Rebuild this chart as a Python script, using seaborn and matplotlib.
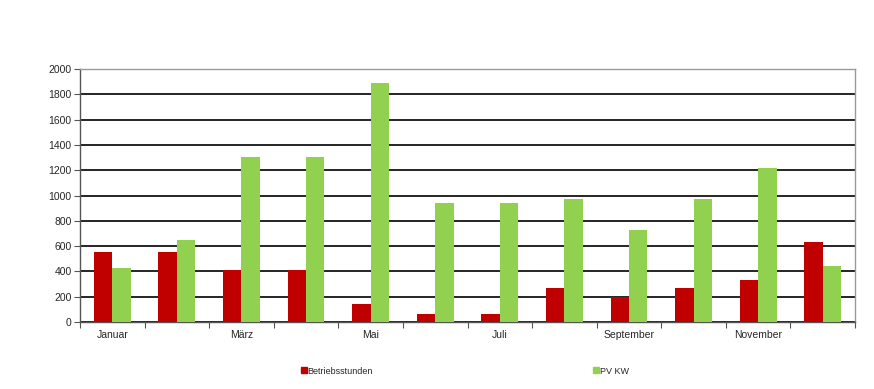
import pandas as pd
import matplotlib.pyplot as plt
import seaborn as sns
from matplotlib.lines import Line2D

months = ["Januar", "Februar", "März", "April", "Mai", "Juni", "Juli",
          "August", "September", "Oktober", "November", "Dezember"]
betriebsstunden = [550, 550, 415, 415, 140, 65, 65, 265, 197, 265, 330, 630]
pv_kw = [430, 652, 1305, 1305, 1888, 942, 942, 971, 728, 971, 1215, 440]
series_names = ["Betriebsstunden", "PV KW"]
colors = ["#C00000", "#92D050"]
y_ticks = list(range(0, 2001, 200))

df = pd.DataFrame({
    "Monat": months * 2,
    "Wert": betriebsstunden + pv_kw,
    "Reihe": [series_names[0]] * 12 + [series_names[1]] * 12,
})

sns.set_style("white")
plt.rcParams["font.family"] = ["Liberation Sans", "DejaVu Sans"]
plt.rcParams["font.size"] = 7.5

fig = plt.figure(figsize=(8.74, 3.89), dpi=100)
ax = fig.add_axes([80 / 874, 1 - 322 / 389, 775 / 874, 253 / 389])

sns.barplot(data=df, x="Monat", y="Wert", hue="Reihe", palette=colors,
            saturation=1, width=0.57, linewidth=0, edgecolor="none",
            ax=ax, legend=False, zorder=3)

ax.set_xlim(-0.5, 11.5)
ax.set_ylim(0, 2000)
ax.set_yticks(y_ticks)
ax.yaxis.grid(True, color="black", linewidth=1.2, zorder=0)
ax.set_axisbelow(True)

# category boundaries as major ticks, labels every other month
ax.set_xticks([i - 0.5 for i in range(13)])
ax.set_xticklabels([])
ax.set_xticks(range(0, 12, 2), minor=True)
ax.set_xticklabels(months[::2], minor=True)
ax.tick_params(axis="x", which="major", bottom=True, direction="out",
               length=4, width=0.8, color="#555555")
ax.tick_params(axis="x", which="minor", bottom=True, length=0, pad=6)
ax.tick_params(axis="y", left=True, direction="out", length=4, width=0.8,
               color="#555555", pad=2)
ax.set_xlabel("")
ax.set_ylabel("")

for side in ["top", "right"]:
    ax.spines[side].set_color("#9a9a9a")
for side in ["left", "bottom"]:
    ax.spines[side].set_color("#555555")
for s in ax.spines.values():
    s.set_linewidth(1.0)

for name, c, x in zip(series_names, colors, [296 / 874, 588 / 874]):
    h = Line2D([], [], marker="s", color=c, linestyle="", markersize=4)
    fig.legend(handles=[h], labels=[name], loc="center left",
               bbox_to_anchor=(x, 1 - 371 / 389), frameon=False,
               handletextpad=0.0, handlelength=0.8, borderpad=0, fontsize=6.5)

fig.savefig("out.png", dpi=100)
